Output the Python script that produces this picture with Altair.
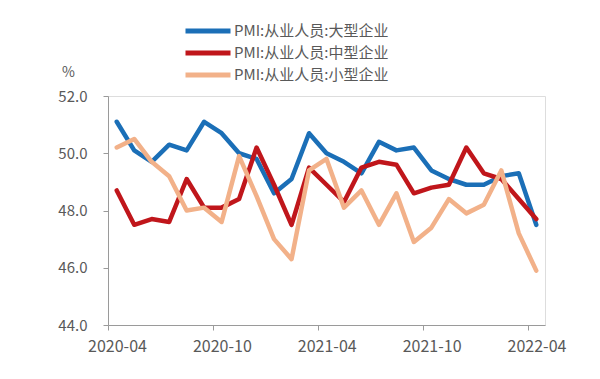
import altair as alt
import pandas as pd

months = ["2020-04", "2020-05", "2020-06", "2020-07", "2020-08", "2020-09", "2020-10",
          "2020-11", "2020-12", "2021-01", "2021-02", "2021-03", "2021-04", "2021-05",
          "2021-06", "2021-07", "2021-08", "2021-09", "2021-10", "2021-11", "2021-12",
          "2022-01", "2022-02", "2022-03", "2022-04"]

large = [51.1, 50.1, 49.7, 50.3, 50.1, 51.1, 50.7, 50.0, 49.8, 48.6, 49.1, 50.7, 50.0,
         49.7, 49.3, 50.4, 50.1, 50.2, 49.4, 49.1, 48.9, 48.9, 49.2, 49.3, 47.5]
medium = [48.7, 47.5, 47.7, 47.6, 49.1, 48.1, 48.1, 48.4, 50.2, 48.9, 47.5, 49.5, 48.9,
          48.3, 49.5, 49.7, 49.6, 48.6, 48.8, 48.9, 50.2, 49.3, 49.1, 48.4, 47.7]
small = [50.2, 50.5, 49.7, 49.2, 48.0, 48.1, 47.6, 49.9, 48.5, 47.0, 46.3, 49.4, 49.8,
         48.1, 48.7, 47.5, 48.6, 46.9, 47.4, 48.4, 47.9, 48.2, 49.4, 47.2, 45.9]

series_names = ["PMI:从业人员:大型企业", "PMI:从业人员:中型企业", "PMI:从业人员:小型企业"]
series_colors = ["#1b6fb7", "#c0161b", "#f2b189"]
tick_months = months[::6]
y_ticks = [44, 46, 48, 50, 52]

rows = []
for s_i, (name, vals) in enumerate(zip(series_names, [large, medium, small])):
    for i, (m, v) in enumerate(zip(months, vals)):
        rows.append({"month": m, "idx": i, "series": name, "order": s_i, "value": v})
df = pd.DataFrame(rows)

label_expr = "[" + ",".join("'" + m + "'" for m in tick_months) + "][datum.value / 6]"

font = "Noto Sans CJK SC"
gray = "#595959"
axis_gray = "#9a9a9a"

chart = alt.Chart(df).transform_calculate(
    xpos="datum.idx + 0.5"
).mark_line(strokeWidth=4.5, strokeJoin="round", strokeCap="round").encode(
    x=alt.X("xpos:Q",
            scale=alt.Scale(domain=[0, len(months)], nice=False, zero=False),
            axis=alt.Axis(values=[0, 6, 12, 18, 24], labelExpr=label_expr, title=None,
                          grid=False, domainColor=axis_gray, tickColor=axis_gray,
                          tickSize=5, labelFontSize=16, labelColor=gray, labelFont=font,
                          labelPadding=8, labelFlush=False, labelOffset=9)),
    y=alt.Y("value:Q",
            scale=alt.Scale(domain=[44, 52], nice=False, zero=False),
            axis=alt.Axis(values=y_ticks, format=".1f", title="%", titleAngle=0,
                          titleX=-40, titleY=-17, titleFontSize=14, titleFontWeight="normal",
                          titleColor=gray, titleFont=font, grid=False,
                          domainColor=axis_gray, tickColor=axis_gray, tickSize=5,
                          labelFontSize=15, labelColor=gray, labelFont=font, labelPadding=16)),
    color=alt.Color("series:N",
                    scale=alt.Scale(domain=series_names, range=series_colors),
                    legend=alt.Legend(title=None, orient="none", legendX=90, legendY=-75,
                                      symbolType="M-3,0H3", symbolStrokeWidth=5,
                                      symbolSize=225, labelFontSize=15, labelFont=font,
                                      labelColor=gray, rowPadding=2, labelOffset=16,
                                      labelLimit=0)),
    detail="order:O",
    order="order:Q",
).properties(
    width=437, height=229,
    autosize=alt.AutoSizeParams(type="none"),
    padding={"left": 100, "top": 88, "right": 40, "bottom": 40},
).configure_view(stroke=None).configure(background="white")

chart.save("out.html", embed_options={"renderer": "svg", "actions": False})
